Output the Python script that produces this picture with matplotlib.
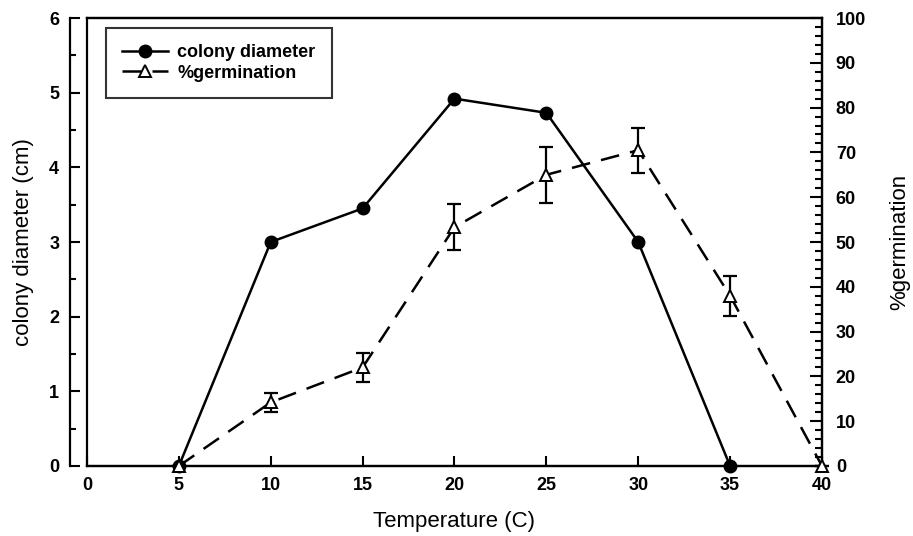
import matplotlib.pyplot as plt
from matplotlib.ticker import MultipleLocator

plt.rcParams['font.family'] = ['Liberation Sans', 'DejaVu Sans']

temp_colony = [5, 10, 15, 20, 25, 30, 35]
colony_diameter = [0, 3.0, 3.45, 4.92, 4.73, 3.0, 0]

temp_germ = [5, 10, 15, 20, 25, 30, 35, 40]
germination = [0, 14.2, 22, 53.3, 65, 70.5, 38, 0]
germ_err = [0, 2.2, 3.3, 5.1, 6.2, 5.0, 4.5, 0]

fig = plt.figure(figsize=(9.13, 5.36), dpi=100)
ax = fig.add_axes([0.0953, 0.1306, 0.805, 0.8358])
ax2 = ax.twinx()

l1, = ax.plot(temp_colony, colony_diameter, color='black', lw=1.8, marker='o',
              ms=9, mfc='black', mec='black', label='colony diameter', clip_on=False, zorder=5)
ax2.errorbar(temp_germ, germination, yerr=germ_err, fmt='none', ecolor='black',
             elinewidth=1.6, capsize=5, capthick=1.6, clip_on=False)
l2, = ax2.plot(temp_germ, germination, color='black', lw=1.8, dashes=(7.5, 4.5),
               marker='^', ms=9, mfc='white', mec='black', mew=1.4,
               label='%germination', clip_on=False, zorder=5)

ax.set_xlim(0, 40)
ax.set_ylim(0, 6)
ax2.set_ylim(0, 100)

ax.xaxis.set_major_locator(MultipleLocator(5))
ax.yaxis.set_major_locator(MultipleLocator(1))
ax.yaxis.set_minor_locator(MultipleLocator(0.5))
ax2.yaxis.set_major_locator(MultipleLocator(10))
ax2.yaxis.set_minor_locator(MultipleLocator(2))

ax.spines['left'].set_position(('outward', 12))
for a in (ax, ax2):
    for s in a.spines.values():
        s.set_linewidth(1.6)

ax.tick_params(axis='x', direction='in', length=7, width=1.5, labelsize=13, pad=8)
ax.tick_params(axis='y', which='major', direction='in', length=7, width=1.5, labelsize=13, pad=8)
ax.tick_params(axis='y', which='minor', direction='in', length=4, width=1.5)
ax2.tick_params(axis='y', which='major', direction='in', length=9, width=1.5, labelsize=13, pad=10)
ax2.tick_params(axis='y', which='minor', direction='in', length=5, width=1.5)
for lab in ax.get_xticklabels() + ax.get_yticklabels() + ax2.get_yticklabels():
    lab.set_fontweight('bold')

ax.set_xlabel('Temperature (C)', fontsize=16, labelpad=12)
ax.set_ylabel('colony diameter (cm)', fontsize=16, labelpad=11)
ax2.set_ylabel('%germination', fontsize=16, labelpad=17)

leg = ax2.legend(handles=[l1, l2], loc='upper left', bbox_to_anchor=(0.026, 0.978),
                 borderaxespad=0, fontsize=13, frameon=True, fancybox=False,
                 edgecolor='black', handlelength=2.5, handletextpad=0.55,
                 borderpad=0.9, labelspacing=0.2)
leg.get_frame().set_linewidth(1.5)
for t in leg.get_texts():
    t.set_fontweight('bold')

plt.savefig('out.png', dpi=100)
